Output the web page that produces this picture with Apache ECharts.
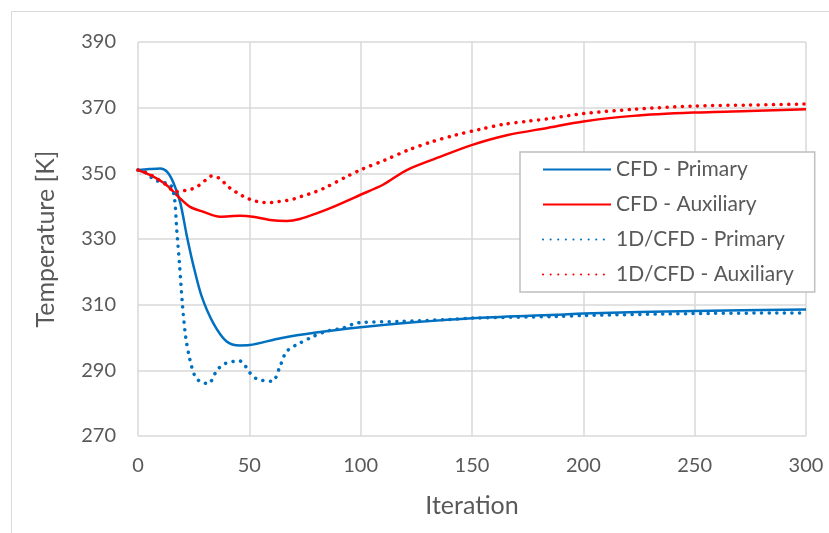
<!DOCTYPE html>
<html>
<head>
<meta charset="utf-8">
<script src="https://cdn.jsdelivr.net/npm/echarts@6/dist/echarts.min.js"></script>
<style>
  html, body { margin: 0; padding: 0; background: #fff; }
  #chart { width: 829px; height: 533px; }
</style>
</head>
<body>
<div id="chart"></div>
<script>
// values
var cfdPrimaryX = [0, 5, 10, 13, 16, 19, 22, 25, 28.6, 33.8, 39.8, 45.8, 50, 64, 80, 100, 125, 150, 188, 200, 250, 300];
var cfdPrimaryY = [351, 351.3, 351.5, 350.5, 347, 341, 330.7, 321.6, 312.5, 304.4, 298.8, 297.6, 297.7, 299.8, 301.5, 303.1, 304.7, 305.9, 306.9, 307.3, 308.1, 308.5];

var cfdAuxX = [0, 5.4, 12.9, 18.1, 23.4, 29.3, 36.8, 45.8, 51.6, 59.3, 66.8, 72.7, 80.2, 87.7, 99.7, 110.2, 120.7, 135.6, 149.8, 165.6, 184.3, 200, 222.4, 249.4, 274.5, 300];
var cfdAuxY = [351, 349.5, 346.4, 342.9, 339.8, 338.3, 336.8, 337.1, 336.8, 335.8, 335.5, 336.1, 337.8, 339.8, 343.4, 346.6, 351, 355, 358.6, 361.6, 363.9, 365.8, 367.5, 368.5, 369, 369.5];

var odPrimaryX = [0, 3.9, 7, 10.6, 14.4, 16.3, 17.4, 18.6, 19.9, 21.4, 23.3, 25.6, 28.3, 31.6, 35.6, 39, 42.1, 45.5, 48, 50.3, 53.3, 57, 60.5, 63.5, 66.8, 72.7, 78.7, 84.7, 92.2, 96.7, 100.4, 117.6, 140, 150, 188, 200, 250, 300];
var odPrimaryY = [351, 350, 348.2, 347.3, 346.7, 342.9, 332.8, 322.6, 310.5, 300.3, 293.3, 288.2, 286.4, 286, 290.2, 292, 292.6, 292.9, 291.5, 289.2, 287.4, 286.8, 286.7, 290.7, 295.8, 298.3, 300.3, 301.9, 302.9, 304.1, 304.6, 304.9, 305.5, 305.9, 306.4, 306.7, 307.3, 307.5];

var odAuxX = [0, 5, 12.9, 16.6, 20.3, 23.7, 27.1, 30.1, 33.1, 36.5, 39.4, 42.1, 45, 48.4, 51.8, 55.5, 59.3, 63, 66.5, 70, 73.5, 77.3, 80.5, 84, 93.7, 100.4, 110.8, 121.4, 131.9, 142.3, 153.6, 164, 175.3, 185, 200, 222.4, 249.4, 274.5, 300];
var odAuxY = [351, 349.8, 346.4, 344.4, 344.7, 345.1, 346.2, 347.8, 349.2, 348.5, 346.7, 345.1, 343.9, 342.6, 341.7, 341.2, 341.1, 341.4, 341.7, 342.2, 343, 343.8, 344.6, 345.6, 349, 351.2, 354, 357.1, 359.6, 361.6, 363.4, 364.9, 365.9, 366.7, 368.2, 369.5, 370.5, 370.8, 371.1];

function pairs(xs, ys) {
  var out = [];
  for (var i = 0; i < xs.length; i++) out.push([xs[i], ys[i]]);
  return out;
}

var font = "Lato, 'Noto Sans', sans-serif";
var textColor = "#595959";
var gridColor = "#d9d9d9";

function lineSeries(name, data, color, dotted) {
  return {
    name: name,
    type: "line",
    data: data,
    smooth: 0.3,
    symbol: "none",
    color: color,
    lineStyle: dotted
      ? { color: color, width: 3.5, type: [0.1, 7.5], cap: "round" }
      : { color: color, width: 2.5 }
  };
}

var chart = echarts.init(document.getElementById("chart"));
chart.setOption({
  animation: false,
  backgroundColor: "#fff",
  textStyle: { fontFamily: font },
  graphic: [{
    type: "rect",
    shape: { x: 11.5, y: 11.5, width: 830, height: 540 },
    style: { fill: null, stroke: gridColor, lineWidth: 1 },
    silent: true
  }],
  grid: { left: 138, right: 23, top: 42, bottom: 97 },
  legend: {
    orient: "vertical",
    left: 520,
    top: 152,
    padding: [7, 21, 7, 22],
    itemWidth: 68,
    itemHeight: 14,
    itemGap: 14,
    backgroundColor: "#fff",
    borderColor: "#bfbfbf",
    borderWidth: 1.5,
    itemStyle: { opacity: 0 },
    textStyle: { color: textColor, fontSize: 21, lineHeight: 21, fontFamily: font },
    data: ["CFD - Primary", "CFD - Auxiliary", "1D/CFD - Primary", "1D/CFD - Auxiliary"]
  },
  xAxis: {
    type: "value",
    min: 0,
    max: 300,
    interval: 50,
    name: "Iteration",
    nameLocation: "middle",
    nameGap: 57,
    nameTextStyle: { color: textColor, fontSize: 25, fontFamily: font },
    axisLine: { show: false },
    axisTick: { show: false },
    axisLabel: { color: textColor, fontSize: 20, margin: 20, fontFamily: font },
    splitLine: { show: true, lineStyle: { color: gridColor, width: 1.5 } }
  },
  yAxis: {
    type: "value",
    min: 270,
    max: 390,
    interval: 20,
    name: "Temperature [K]",
    nameLocation: "middle",
    nameGap: 80,
    nameTextStyle: { color: textColor, fontSize: 25, fontFamily: font },
    axisLine: { show: false },
    axisTick: { show: false },
    axisLabel: { color: textColor, fontSize: 20, margin: 22, fontFamily: font },
    splitLine: { show: true, lineStyle: { color: gridColor, width: 1.5 } }
  },
  series: [
    lineSeries("CFD - Primary", pairs(cfdPrimaryX, cfdPrimaryY), "#0070c0", false),
    lineSeries("CFD - Auxiliary", pairs(cfdAuxX, cfdAuxY), "#ff0000", false),
    lineSeries("1D/CFD - Primary", pairs(odPrimaryX, odPrimaryY), "#0070c0", true),
    lineSeries("1D/CFD - Auxiliary", pairs(odAuxX, odAuxY), "#ff0000", true)
  ]
});
</script>
</body>
</html>
